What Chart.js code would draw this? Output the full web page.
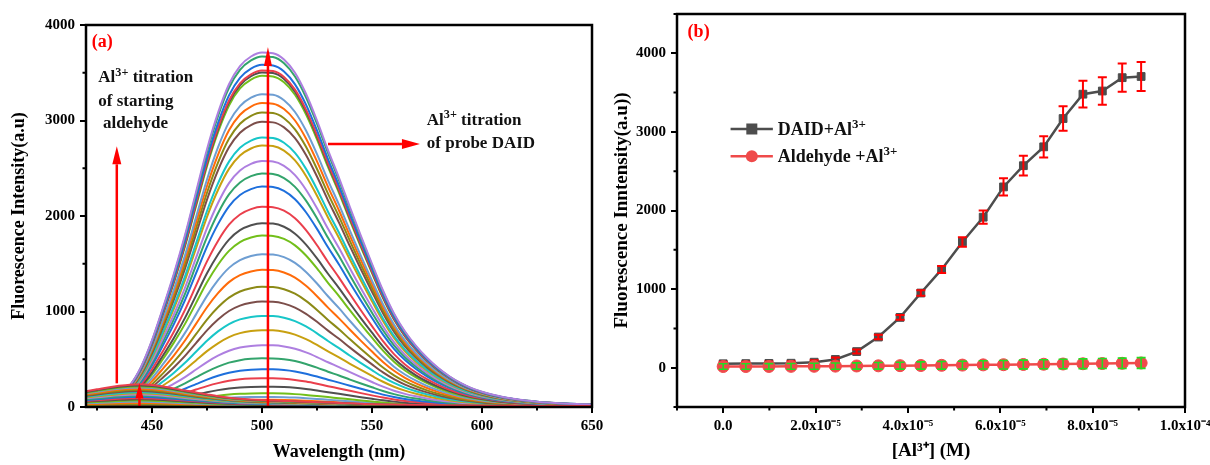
<!DOCTYPE html>
<html>
<head>
<meta charset="utf-8">
<script src="https://cdn.jsdelivr.net/npm/chart.js@4.4.0/dist/chart.umd.min.js"></script>
<style>
  body { margin: 0; background: #fff; }
  #wrap { position: relative; width: 1210px; height: 465px; overflow: hidden; }
  canvas { position: absolute; top: 0; }
  #specChart { left: 0; }
  #titrChart { left: 600px; }
</style>
</head>
<body>
<div id="wrap">
  <canvas id="specChart" width="620" height="465"></canvas>
  <canvas id="titrChart" width="610" height="465"></canvas>
</div>
<script>
// ---- panel (a): emission spectra ----
const wavelengths = [420,425,430,435,440,445,450,455,460,465,470,475,480,485,490,495,500,505,510,515,520,525,530,535,540,545,550,555,560,565,570,575,580,585,590,595,600,605,610,615,620,625,630,635,640,645,650];

// top DAID spectrum
const daidTopCurve = [40,60,95,140,230,420,700,1040,1400,1800,2250,2700,3080,3380,3570,3670,3712,3705,3640,3500,3280,3000,2690,2400,2090,1790,1500,1220,980,790,640,515,410,325,255,200,160,128,102,83,68,56,47,40,34,30,26];
// peak heights of the DAID titration curves (low to high)
const daidPeaks = [25,50,75,105,143,213,301,395,510,647,804,954,1104,1258,1436,1600,1795,1925,2096,2308,2445,2575,2738,2822,2986,3084,3182,3276,3468,3503,3524,3583,3671,3712];

// top aldehyde spectrum
const aldTopCurve = [165,185,205,222,234,237,230,215,195,172,152,132,113,98,87,78,72,68,64,60,56,51,46,42,38,34,30,27,25,23,21,19,18,17,16,15,14,13,13,12,12,11,11,10,10,10,10];
// peak heights of the aldehyde titration curves (low to high)
const aldPeaks = [18,30,42,55,68,80,92,105,118,130,143,155,168,180,192,205,215,226,237];

const specXTicks = [450,500,550,600,650];
const specXMinor = [425,475,525,575,625];
const specYTicks = [0,1000,2000,3000,4000];
const specYMinor = [500,1500,2500,3500];

// ---- panel (b): titration plot ----
const concAl = [0,0.49e-5,0.99e-5,1.47e-5,1.97e-5,2.43e-5,2.89e-5,3.36e-5,3.83e-5,4.28e-5,4.73e-5,5.18e-5,5.63e-5,6.07e-5,6.50e-5,6.94e-5,7.36e-5,7.79e-5,8.21e-5,8.64e-5,9.05e-5];
const daidIntensity = [50,52,55,57,70,105,205,390,640,950,1250,1600,1915,2300,2570,2810,3170,3480,3520,3690,3705];
const daidError = [25,25,25,25,25,25,25,28,30,35,45,60,85,110,125,135,155,170,175,180,185];
const aldIntensity = [15,15,16,17,18,20,22,24,26,28,30,33,36,38,41,44,47,50,53,56,60];
const aldError = [35,35,36,36,38,40,40,42,44,46,48,50,52,54,56,58,60,62,64,66,68];

const titrXTicks = [0,2e-5,4e-5,6e-5,8e-5,1e-4];
const titrXLabels = ['0.0','2.0x10⁻⁵','4.0x10⁻⁵','6.0x10⁻⁵','8.0x10⁻⁵','1.0x10⁻⁴'];
const titrXMinor = [-1e-5,1e-5,3e-5,5e-5,7e-5,9e-5];
const titrYTicks = [0,1000,2000,3000,4000];
const titrYMinor = [-500,500,1500,2500,3500,4500];

const cycleColors = ['#72bf1a','#505050','#ea3f4c','#1e6fdc','#33a46c','#ae7fe0','#c8a010','#18c6c8','#7c4e4a','#8c8a16','#ff6b0a','#6e9ed2'];

const FONT = '"Liberation Serif", "Times New Roman", serif';
const tickFont = { family: FONT, size: 15, weight: 'bold' };

function supText(ctx, x, y, parts, size) {
    let cx = x;
    parts.forEach(([t, sup]) => {
        const fs = sup ? size * 0.72 : size;
        ctx.font = 'bold ' + fs + 'px ' + FONT;
        ctx.fillText(t, cx, sup ? y - size * 0.4 : y);
        cx += ctx.measureText(t).width;
    });
}

function arrow(ctx, x1, y1, x2, y2, headLen, headW) {
    const ang = Math.atan2(y2 - y1, x2 - x1);
    const bx = x2 - headLen * Math.cos(ang), by = y2 - headLen * Math.sin(ang);
    ctx.beginPath();
    ctx.moveTo(x1, y1);
    ctx.lineTo(bx, by);
    ctx.stroke();
    ctx.beginPath();
    ctx.moveTo(x2, y2);
    ctx.lineTo(bx + headW / 2 * Math.sin(ang), by - headW / 2 * Math.cos(ang));
    ctx.lineTo(bx - headW / 2 * Math.sin(ang), by + headW / 2 * Math.cos(ang));
    ctx.closePath();
    ctx.fill();
}

function framePlugin(minorX, minorY) {
    return {
        id: 'frame',
        afterDraw(chart) {
            const { ctx, chartArea: a, scales } = chart;
            ctx.save();
            ctx.strokeStyle = '#000';
            ctx.lineWidth = 2;
            ctx.beginPath();
            minorX.forEach(v => {
                const px = scales.x.getPixelForValue(v);
                ctx.moveTo(px, a.bottom); ctx.lineTo(px, a.bottom + 3.5);
            });
            minorY.forEach(v => {
                const py = scales.y.getPixelForValue(v);
                ctx.moveTo(a.left - 3.5, py); ctx.lineTo(a.left, py);
            });
            ctx.stroke();
            ctx.lineWidth = 2.5;
            ctx.strokeRect(a.left, a.top, a.right - a.left, a.bottom - a.top);
            ctx.restore();
        }
    };
}

function axisCommon(extra) {
    return Object.assign({
        type: 'linear',
        grid: { drawOnChartArea: false, color: '#000', lineWidth: 2, tickLength: 6 },
        border: { display: false },
    }, extra);
}

// build spectra datasets
const specSets = [];
daidPeaks.forEach((p, k) => {
    const top = Math.max(...daidTopCurve);
    specSets.push({
        data: wavelengths.map((w, i) => ({ x: w, y: daidTopCurve[i] * p / top })),
        borderColor: cycleColors[(k - 4 + 12) % 12],
        borderWidth: 2,
        pointRadius: 0,
        cubicInterpolationMode: 'monotone',
        order: 200 - k
    });
});
aldPeaks.forEach((p, k) => {
    const top = Math.max(...aldTopCurve);
    specSets.push({
        data: wavelengths.map((w, i) => ({ x: w, y: aldTopCurve[i] * p / top })),
        borderColor: cycleColors[(k + 8) % 12],
        borderWidth: 2,
        pointRadius: 0,
        cubicInterpolationMode: 'monotone',
        order: 100 - k
    });
});

const specNotes = {
    id: 'specNotes',
    afterDatasetsDraw(chart) {
        const { ctx, scales: { x, y } } = chart;
        ctx.save();
        ctx.strokeStyle = '#ff0000';
        ctx.fillStyle = '#ff0000';
        ctx.lineWidth = 2.5;
        arrow(ctx, x.getPixelForValue(434), y.getPixelForValue(248), x.getPixelForValue(434), y.getPixelForValue(2730), 18, 9);
        arrow(ctx, x.getPixelForValue(444.3), y.getPixelForValue(10), x.getPixelForValue(444.3), y.getPixelForValue(248), 15, 8);
        arrow(ctx, x.getPixelForValue(502.7), y.getPixelForValue(10), x.getPixelForValue(502.7), y.getPixelForValue(3770), 19, 8);
        arrow(ctx, x.getPixelForValue(530), y.getPixelForValue(2753), x.getPixelForValue(571.8), y.getPixelForValue(2753), 18, 10);

        ctx.textBaseline = 'alphabetic';
        ctx.font = 'bold 18px ' + FONT;
        ctx.fillText('(a)', x.getPixelForValue(422.6), y.getPixelForValue(3765));

        ctx.fillStyle = '#111';
        supText(ctx, x.getPixelForValue(425.6), y.getPixelForValue(3400), [['Al', false], ['3+', true], [' titration', false]], 17);
        supText(ctx, x.getPixelForValue(425.6), y.getPixelForValue(3151), [['of starting', false]], 17);
        supText(ctx, x.getPixelForValue(427.7), y.getPixelForValue(2917), [['aldehyde', false]], 17);
        supText(ctx, x.getPixelForValue(574.9), y.getPixelForValue(2952), [['Al', false], ['3+', true], [' titration', false]], 17);
        supText(ctx, x.getPixelForValue(574.9), y.getPixelForValue(2708), [['of probe DAID', false]], 17);
        ctx.restore();
    }
};

new Chart(document.getElementById('specChart'), {
    type: 'line',
    data: { datasets: specSets },
    options: {
        responsive: false,
        animation: false,
        events: [],
        layout: { padding: { top: 25, right: 28, left: 0, bottom: 0 } },
        plugins: { legend: { display: false }, tooltip: { enabled: false } },
        scales: {
            x: axisCommon({
                min: 420, max: 650,
                afterBuildTicks: s => { s.ticks = specXTicks.map(v => ({ value: v })); },
                afterFit: s => { s.height = 58; s.paddingLeft = 0; s.paddingRight = 0; },
                ticks: { color: '#000', font: tickFont, padding: 4, maxRotation: 0, callback: v => String(v) },
                title: { display: true, text: 'Wavelength (nm)', color: '#000', font: { family: FONT, size: 18, weight: 'bold' }, padding: { top: 0, bottom: 2 } }
            }),
            y: axisCommon({
                min: 0, max: 4000,
                afterBuildTicks: s => { s.ticks = specYTicks.map(v => ({ value: v })); },
                afterFit: s => { s.width = 86; s.paddingTop = 0; s.paddingBottom = 0; },
                ticks: { color: '#000', font: tickFont, padding: 5, callback: v => String(v) },
                title: { display: true, text: 'Fluorescence Intensity(a.u)', color: '#000', font: { family: FONT, size: 18, weight: 'bold' }, padding: { top: 9, bottom: 0 } }
            })
        }
    },
    plugins: [specNotes, framePlugin(specXMinor, specYMinor)]
});

// ---- panel (b) ----
const errorBars = {
    id: 'errorBars',
    afterDatasetDraw(chart, args) {
        const errs = [daidError, aldError][args.index];
        const vals = [daidIntensity, aldIntensity][args.index];
        const col = ['#ff0000', '#22dd22'][args.index];
        const { ctx, scales: { x, y } } = chart;
        ctx.save();
        ctx.strokeStyle = col;
        ctx.lineWidth = args.index === 0 ? 2 : 1.6;
        ctx.beginPath();
        concAl.forEach((c, i) => {
            const px = x.getPixelForValue(c);
            const y1 = y.getPixelForValue(vals[i] + errs[i]);
            const y2 = y.getPixelForValue(vals[i] - errs[i]);
            ctx.moveTo(px, y1); ctx.lineTo(px, y2);
            ctx.moveTo(px - 4.5, y1); ctx.lineTo(px + 4.5, y1);
            ctx.moveTo(px - 4.5, y2); ctx.lineTo(px + 4.5, y2);
        });
        ctx.stroke();
        ctx.restore();
    }
};

const titrNotes = {
    id: 'titrNotes',
    afterDraw(chart) {
        const { ctx, scales: { x, y } } = chart;
        ctx.save();
        ctx.textBaseline = 'alphabetic';
        ctx.fillStyle = '#ff0000';
        ctx.font = 'bold 18px ' + FONT;
        ctx.fillText('(b)', x.getPixelForValue(-0.77e-5), y.getPixelForValue(4205));

        const rows = [
            { yv: 3037, color: '#4d4d4d', shape: 'rect', parts: [['DAID+Al', false], ['3+', true]] },
            { yv: 2690, color: '#ef4a4a', shape: 'circle', parts: [['Aldehyde +Al', false], ['3+', true]] }
        ];
        rows.forEach(r => {
            const py = y.getPixelForValue(r.yv);
            ctx.strokeStyle = r.color;
            ctx.fillStyle = r.color;
            ctx.lineWidth = 2.5;
            ctx.beginPath();
            ctx.moveTo(x.getPixelForValue(0.16e-5), py);
            ctx.lineTo(x.getPixelForValue(1.076e-5), py);
            ctx.stroke();
            const mx = x.getPixelForValue(0.62e-5);
            if (r.shape === 'rect') {
                ctx.fillRect(mx - 5.5, py - 5.5, 11, 11);
            } else {
                ctx.beginPath(); ctx.arc(mx, py, 6, 0, Math.PI * 2); ctx.fill();
            }
            ctx.fillStyle = '#111';
            supText(ctx, x.getPixelForValue(1.18e-5), py + 6, r.parts, 18);
        });
        ctx.restore();
    }
};

new Chart(document.getElementById('titrChart'), {
    type: 'line',
    data: {
        datasets: [{
            label: 'DAID+Al3+',
            data: concAl.map((c, i) => ({ x: c, y: daidIntensity[i] })),
            borderColor: '#4d4d4d',
            backgroundColor: '#4d4d4d',
            borderWidth: 2.5,
            pointStyle: 'rect',
            pointRadius: 5.5,
            pointBorderWidth: 1,
            order: 1
        }, {
            label: 'Aldehyde +Al3+',
            data: concAl.map((c, i) => ({ x: c, y: aldIntensity[i] })),
            borderColor: '#ef4a4a',
            backgroundColor: '#ef4a4a',
            borderWidth: 2.5,
            pointStyle: 'circle',
            pointRadius: 6,
            pointBorderWidth: 1,
            order: 0
        }]
    },
    options: {
        responsive: false,
        animation: false,
        events: [],
        layout: { padding: { top: 14, right: 25, left: 0, bottom: 0 } },
        plugins: { legend: { display: false }, tooltip: { enabled: false } },
        scales: {
            x: axisCommon({
                min: -1e-5, max: 1e-4,
                afterBuildTicks: s => { s.ticks = titrXTicks.map(v => ({ value: v })); },
                afterFit: s => { s.height = 58; s.paddingLeft = 0; s.paddingRight = 0; },
                ticks: {
                    color: '#000', font: tickFont, padding: 4, maxRotation: 0,
                    callback: (v, i) => titrXLabels[i]
                },
                title: { display: true, text: '[Al³⁺] (M)', color: '#000', font: { family: FONT, size: 19, weight: 'bold' }, padding: { top: 0, bottom: 3 } }
            }),
            y: axisCommon({
                min: -500, max: 4500,
                afterBuildTicks: s => { s.ticks = titrYTicks.map(v => ({ value: v })); },
                afterFit: s => { s.width = 77; s.paddingTop = 0; s.paddingBottom = 0; },
                ticks: { color: '#000', font: tickFont, padding: 5, callback: v => String(v) },
                title: { display: true, text: 'Fluorescence Inntensity(a.u))', color: '#000', font: { family: FONT, size: 19, weight: 'bold' }, padding: { top: 11, bottom: 0 } }
            })
        }
    },
    plugins: [errorBars, titrNotes, framePlugin(titrXMinor, titrYMinor)]
});
</script>
</body>
</html>
